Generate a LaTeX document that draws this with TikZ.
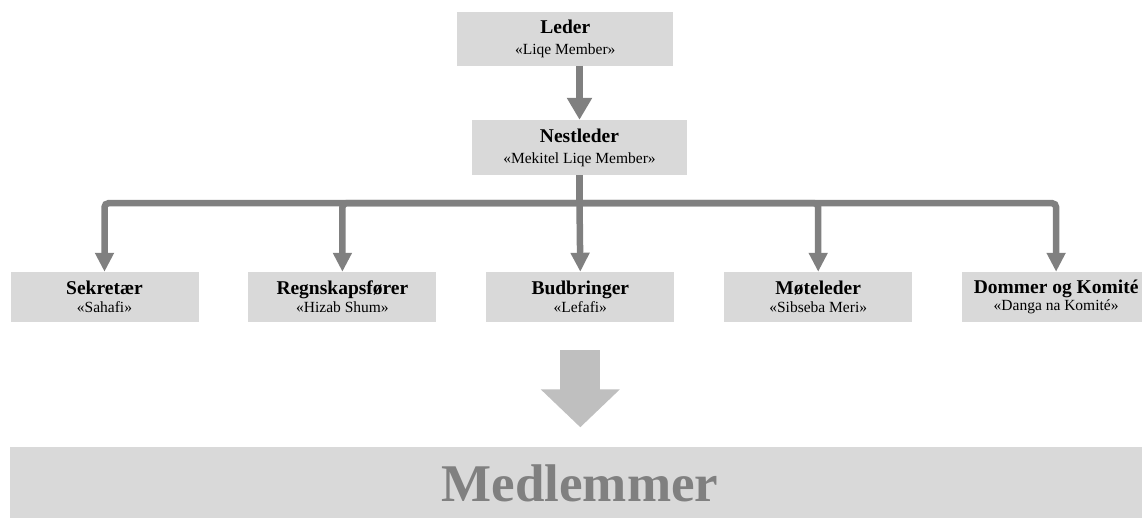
\documentclass[tikz,border=0pt]{standalone}
\usepackage{fontspec}
\setmainfont{Liberation Serif}
\usetikzlibrary{arrows.meta,positioning}

\definecolor{boxgray}{HTML}{D9D9D9}
\definecolor{linkgray}{HTML}{808080}
\definecolor{biggray}{HTML}{BFBFBF}

\newcommand{\ttl}[1]{{\fontsize{19.5}{21}\selectfont\bfseries #1}}

\begin{document}
\begin{tikzpicture}[x=1pt,y=1pt,
    role/.style={fill=boxgray,inner sep=0pt,align=center,
                 font=\fontsize{15.5}{21}\selectfont},
    toprole/.style={role,minimum width=216pt,minimum height=54pt},
    lowrole/.style={role,minimum width=188pt,minimum height=50pt,
                    font=\fontsize{15.5}{17.7}\selectfont},
    link/.style={draw=linkgray,line width=6.5pt,rounded corners=4pt},
    tip/.style={-{Triangle[width=18pt,length=19pt]}},
    bigarrow/.style={draw=biggray,line width=40pt,
                     -{Triangle[width=77pt,length=38pt]}},
    node distance=49.5pt]

\useasboundingbox (0,0) rectangle (1142,518);

\node[toprole] (leder) at (565.3,479.3) {\ttl{Leder}\\«Liqe Member»};
\node[toprole,minimum width=215.6pt,minimum height=55pt] (nest) at (579.5,370.5)
     {\ttl{Nestleder}\\«Mekitel Liqe Member»};

\node[lowrole] (sek) at (104.5,221) {\ttl{Sekretær}\\«Sahafi»};
\node[lowrole,right=of sek] (regn) {\ttl{Regnskapsfører}\\«Hizab Shum»};
\node[lowrole,right=of regn] (bud) {\ttl{Budbringer}\\«Lefafi»};
\node[lowrole,right=of bud] (mote) {\ttl{Møteleder}\\«Sibseba Meri»};
\node[lowrole,right=of mote] (dom) {\ttl{Dommer og Komité}\\«Danga na Komité»};

\node[fill=boxgray,minimum width=1140pt,minimum height=72pt,inner sep=0pt,
      text=linkgray,font=\fontsize{53}{60}\selectfont\bfseries]
     (medlem) at (580,34.5) {Medlemmer};

% arrows
\draw[link,-{Triangle[width=24pt,length=22pt]}] (leder.south -| nest.north) -- (nest.north);
\coordinate (bar) at ([yshift=-28pt]nest.south);
\draw[link] (nest.south) -- (bar);
\draw[link,tip] (bar) -- (bud.north);
\foreach \n in {sek,regn,mote,dom}
  \draw[link,tip] (bar) -| (\n.north);

\draw[bigarrow] ([yshift=-28pt]bud.south) -- ([yshift=20pt]medlem.north -| bud.south);

\end{tikzpicture}
\end{document}
